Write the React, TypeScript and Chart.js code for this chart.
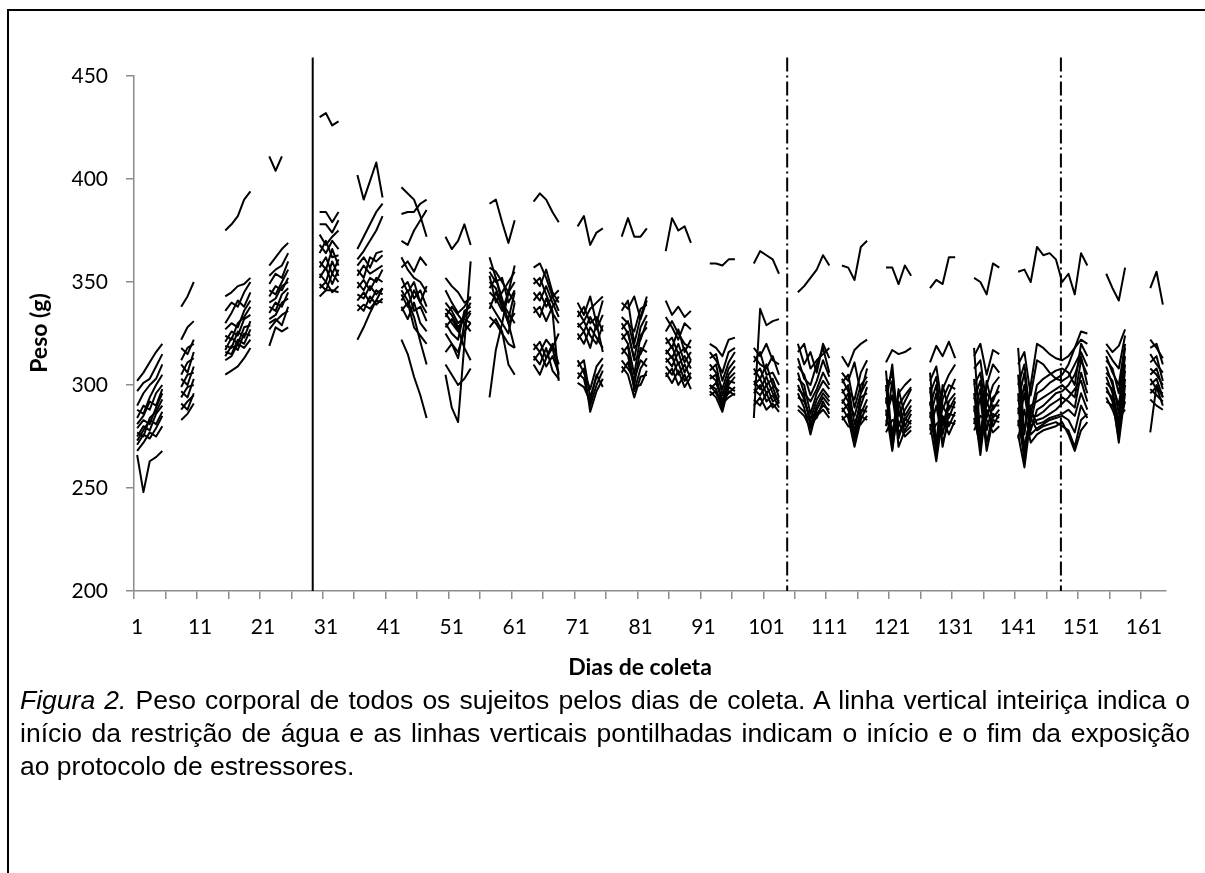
import React, { useEffect, useRef } from "react";
import { Chart, registerables } from "chart.js";

Chart.register(...registerables);

const NUM_DAYS = 164;
const dayLabels: string[] = Array.from({ length: NUM_DAYS }, (_, i) => String(i + 1));
const yTicks = [200, 250, 300, 350, 400, 450];
const solidLineDays = [28.9];
const dashLineDays = [104.3, 147.8];
const lineTopValue = 459;
const xTitle = "Dias de coleta";
const yTitle = "Peso (g)";
const blockStartDays = [1, 8, 15, 22, 30, 36, 43, 50, 57, 64, 71, 78, 85, 92, 99, 106, 113, 120, 127, 134, 141, 155, 162];

const b01 = [
  [302, 306, 311, 316, 320], [297, 301, 303, 309, 315], [290, 296, 300, 303, 310], [288, 286, 294, 300, 305],
  [284, 290, 288, 296, 300], [281, 285, 292, 290, 298], [279, 283, 281, 289, 296], [277, 275, 284, 287, 293],
  [275, 280, 278, 286, 290], [273, 278, 283, 281, 287], [271, 276, 274, 279, 285], [268, 272, 277, 275, 280],
  [266, 248, 263, 265, 268],
];
const b02 = [
  [338, 343, 350], [322, 328, 331], [318, 315, 322], [312, 318, 320], [310, 306, 316], [305, 311, 313],
  [303, 300, 309], [299, 305, 306], [297, 294, 303], [294, 299, 300], [291, 288, 296], [288, 292, 295],
  [283, 286, 291],
];
const b03 = [
  [375, 378, 382, 390, 394], [343, 345, 348, 349, 352], [336, 340, 338, 345, 350], [330, 335, 341, 338, 345],
  [327, 330, 328, 336, 341], [324, 322, 330, 333, 338], [321, 326, 324, 332, 334], [319, 318, 326, 323, 331],
  [317, 323, 320, 328, 329], [316, 315, 322, 320, 327], [314, 319, 317, 325, 324], [312, 314, 320, 318, 322],
  [305, 307, 309, 313, 318],
];
const b04 = [
  [411, 404, 411, null], [358, 362, 366, 369], [353, 356, 358, 364], [349, 354, 352, 360], [346, 344, 350, 356],
  [343, 348, 346, 352], [340, 342, 348, 350], [338, 336, 344, 347], [335, 340, 338, 345], [332, 334, 340, 342],
  [330, 332, 329, 338], [327, 331, 334, 336], [319, 328, 326, 328],
];
const b05 = [
  [430, 432, 426, 428], [384, 384, 379, 384], [378, 378, 374, 380], [373, 368, 372, 375], [368, 364, 370, 366],
  [364, 370, 362, 363], [360, 356, 366, 358], [357, 362, 354, 361], [354, 350, 360, 353], [352, 357, 349, 356],
  [349, 346, 354, 350], [347, 350, 345, 348], [343, 346, 346, 345],
];
const b06 = [
  [402, 390, 399, 408, 391], [366, 372, 378, 384, 388], [361, 365, 370, 375, 382], [358, 362, 357, 364, 365],
  [356, 352, 362, 360, 363], [353, 358, 354, 356, 358], [350, 346, 352, 350, 356], [347, 351, 346, 352, 350],
  [344, 342, 348, 344, 347], [341, 345, 340, 346, 344], [339, 336, 343, 339, 342], [336, 339, 337, 341, 340],
  [322, 328, 335, 341, 347],
];
const b07 = [
  [396, 393, 390, 382, 372], [383, 384, 384, 388, 390], [370, 368, 375, 380, 385], [362, 356, 352, 350, 345],
  [357, 360, 355, 362, 358], [352, 345, 350, 340, 348], [347, 350, 342, 346, 338], [344, 338, 346, 340, 335],
  [341, 346, 336, 338, 331], [338, 332, 340, 330, 326], [336, 340, 328, 324, 320], [322, 315, 304, 295, 284],
  [346, 341, 333, 321, 310],
];
const b08 = [
  [372, 366, 370, 378, 368], [352, 348, 345, 340, 342], [346, 340, 335, 338, 343], [340, 336, 330, 333, 336],
  [337, 334, 328, 332, 330], [335, 330, 326, 334, 340], [333, 338, 334, 330, 326], [330, 325, 322, 336, 338],
  [328, 332, 327, 318, 312], [325, 320, 316, 326, 330], [316, 320, 313, 330, 335], [305, 289, 282, 320, 360],
  [310, 305, 300, 303, 308],
];
const b09 = [
  [388, 390, 379, 369, 380], [362, 352, 342, 330, 318], [357, 355, 350, 345, 340], [355, 350, 352, 340, 346],
  [353, 340, 345, 350, 355], [350, 347, 338, 332, 345], [347, 352, 340, 335, 330], [345, 342, 336, 345, 350],
  [340, 335, 330, 325, 340], [337, 345, 338, 330, 335], [333, 330, 325, 320, 318], [328, 332, 326, 310, 305],
  [294, 317, 330, 345, 358],
];
const b10 = [
  [389, 393, 390, 384, 379], [357, 359, 352, 343, 336], [352, 348, 356, 345, 340], [349, 352, 344, 336, 302],
  [345, 341, 348, 340, 333], [341, 345, 338, 343, 346], [338, 333, 342, 335, 330], [335, 338, 331, 338, 343],
  [320, 316, 322, 318, 305], [317, 321, 313, 320, 310], [314, 310, 318, 307, 303], [312, 316, 309, 314, 306],
  [310, 305, 313, 318, 325],
];
const b11 = [
  [377, 382, 368, 374, 376], [340, 334, 343, 330, 341], [336, 331, 337, 340, 343], [333, 338, 330, 333, 326],
  [330, 326, 333, 327, 334], [328, 331, 324, 320, 329], [325, 320, 328, 323, 318], [322, 326, 318, 330, 316],
  [312, 306, 298, 309, 313], [309, 312, 294, 304, 310], [306, 303, 290, 300, 307], [303, 308, 287, 297, 303],
  [301, 299, 292, 305, 299],
];
const b12 = [
  [372, 381, 372, 372, 376], [340, 337, 343, 332, 341], [336, 341, 320, 333, 343], [333, 330, 326, 337, 339],
  [330, 325, 313, 328, 334], [327, 331, 318, 322, 331], [325, 320, 305, 324, 328], [322, 326, 312, 315, 322],
  [318, 314, 300, 318, 316], [315, 319, 297, 308, 313], [312, 308, 303, 312, 309], [309, 305, 294, 304, 305],
  [306, 311, 299, 300, 307],
];
const b13 = [
  [365, 381, 375, 377, 369], [341, 334, 338, 333, 336], [333, 328, 322, 330, 327], [326, 331, 325, 320, 318],
  [323, 318, 327, 316, 322], [320, 323, 315, 318, 312], [317, 313, 320, 311, 316], [315, 319, 310, 314, 308],
  [313, 309, 316, 306, 312], [311, 314, 305, 310, 303], [309, 305, 311, 302, 306], [306, 301, 307, 299, 304],
  [304, 308, 300, 305, 298],
];
const b14 = [
  [359, 359, 358, 361, 361], [320, 318, 314, 322, 323], [316, 312, 306, 316, 318], [313, 315, 302, 311, 316],
  [310, 306, 298, 308, 312], [307, 310, 295, 305, 309], [305, 302, 292, 303, 306], [303, 305, 290, 300, 304],
  [300, 298, 288, 302, 301], [298, 301, 293, 296, 299], [297, 294, 287, 299, 297], [295, 297, 291, 294, 296],
  [300, 296, 290, 297, 295],
];
const b15 = [
  [359, 365, 363, 361, 354], [284, 337, 329, 331, 332], [318, 314, 320, 312, 310], [314, 310, 308, 314, 305],
  [311, 316, 305, 306, 300], [308, 303, 310, 300, 297], [305, 308, 300, 303, 294], [302, 298, 304, 296, 292],
  [300, 303, 296, 299, 291], [298, 295, 300, 292, 294], [296, 300, 292, 295, 289], [293, 290, 296, 289, 292],
  [290, 294, 288, 291, 287],
];
const b16 = [
  [345, 348, 352, 356, 363, 358], [320, 310, 316, 306, 320, 313], [316, 320, 308, 312, 315, 318],
  [313, 303, 300, 310, 318, 306], [309, 305, 295, 302, 312, 304], [306, 296, 292, 298, 306, 300],
  [303, 300, 286, 296, 302, 298], [300, 293, 283, 293, 298, 294], [298, 295, 280, 290, 296, 292],
  [296, 289, 276, 288, 294, 290], [294, 292, 284, 286, 290, 288], [290, 287, 282, 284, 292, 286],
  [288, 285, 279, 285, 288, 284],
];
const b17 = [
  [358, 357, 351, 367, 370], [314, 309, 317, 320, 322], [306, 302, 311, 296, 308], [303, 297, 293, 306, 312],
  [301, 305, 289, 300, 304], [298, 292, 285, 296, 302], [296, 300, 281, 290, 299], [293, 288, 278, 294, 296],
  [291, 296, 273, 286, 293], [289, 284, 270, 283, 290], [287, 291, 276, 288, 287], [285, 280, 279, 281, 285],
  [283, 286, 274, 285, 283],
];
const b18 = [
  [357, 357, 349, 358, 353], [311, 317, 315, 316, 318], [307, 272, 296, 300, 303], [303, 300, 285, 292, 298],
  [300, 269, 290, 295, 299], [297, 306, 280, 288, 293], [294, 275, 298, 285, 290], [291, 310, 276, 283, 288],
  [288, 268, 292, 280, 286], [285, 295, 274, 284, 281], [283, 278, 288, 277, 280], [280, 302, 270, 278, 283],
  [277, 283, 282, 275, 278],
];
const b19 = [
  [347, 351, 349, 362, 362], [311, 319, 314, 321, 313], [306, 270, 298, 305, 310], [302, 309, 288, 296, 303],
  [299, 265, 293, 300, 298], [296, 304, 280, 292, 296], [292, 272, 300, 288, 294], [290, 300, 276, 290, 289],
  [287, 268, 290, 284, 292], [284, 296, 270, 286, 285], [281, 263, 285, 280, 287], [278, 290, 272, 282, 281],
  [276, 281, 284, 276, 283],
];
const b20 = [
  [352, 350, 344, 359, 357], [314, 320, 305, 317, 315], [318, 275, 300, 310, 306], [308, 312, 290, 300, 304],
  [303, 268, 296, 292, 300], [300, 306, 284, 294, 297], [296, 271, 302, 288, 293], [293, 302, 278, 290, 290],
  [290, 266, 292, 284, 288], [287, 298, 272, 286, 284], [284, 270, 288, 280, 286], [281, 294, 268, 283, 282],
  [278, 285, 283, 277, 280],
];
const b21 = [
  [355, 356, 350, 367, 363, 364, 361, 350, 354, 344, 364, 358],
  [318, 276, 300, 320, 318, 315, 313, 312, 314, 318, 326, 325],
  [310, 316, 295, 312, 310, 306, 303, 305, 310, 318, 322, 320],
  [305, 268, 286, 300, 303, 305, 307, 308, 306, 300, 320, 314],
  [300, 310, 282, 296, 298, 301, 303, 302, 304, 310, 316, 309],
  [296, 262, 290, 292, 294, 296, 298, 300, 297, 294, 312, 305],
  [292, 306, 278, 288, 290, 293, 296, 297, 300, 305, 314, 300],
  [289, 270, 285, 285, 287, 290, 292, 294, 292, 289, 306, 296],
  [286, 300, 280, 283, 284, 286, 288, 291, 294, 298, 302, 292],
  [283, 265, 288, 281, 282, 284, 285, 286, 288, 285, 296, 288],
  [280, 296, 276, 279, 281, 283, 284, 285, 283, 277, 290, 284],
  [276, 260, 284, 278, 280, 281, 282, 280, 278, 270, 283, 286],
  [274, 288, 272, 276, 278, 279, 280, 282, 276, 268, 278, 282],
];
const b22 = [
  [354, 347, 341, 357], [320, 316, 319, 327], [317, 312, 308, 324], [314, 306, 300, 320], [312, 308, 296, 318],
  [309, 300, 290, 314], [306, 302, 286, 310], [304, 296, 282, 307], [301, 298, 278, 303], [299, 292, 274, 300],
  [297, 294, 272, 296], [294, 288, 280, 292], [292, 290, 284, 288],
];
const b23 = [
  [347, 355, 339], [322, 318, 313], [318, 320, 310], [315, 310, 306], [311, 314, 302], [308, 305, 300],
  [305, 308, 298], [303, 298, 296], [300, 303, 294], [298, 295, 292], [296, 299, 290], [293, 290, 288],
  [277, 300, 294],
];

const blocks = [b01, b02, b03, b04, b05, b06, b07, b08, b09, b10, b11, b12, b13, b14, b15, b16, b17, b18, b19, b20, b21, b22, b23];
const SUBJECTS = b01.length;

function buildSeries(s: number): (number | null)[] {
  const arr: (number | null)[] = new Array(NUM_DAYS).fill(null);
  blocks.forEach((b, k) => {
    b[s].forEach((v, j) => {
      arr[blockStartDays[k] - 1 + j] = v as number | null;
    });
  });
  return arr;
}

const AXIS = "#8c8c8c";
const TITLE_FONT = "bold 23px Lato";

const markerPlugin = {
  id: "markers",
  afterDatasetsDraw(chart: any) {
    const { ctx, scales } = chart;
    const x = scales.x;
    const y = scales.y;
    const top = y.getPixelForValue(lineTopValue);
    const bottom = y.getPixelForValue(200);
    ctx.save();
    ctx.strokeStyle = "#000";
    ctx.lineWidth = 2;
    solidLineDays.forEach((d) => {
      const px = x.getPixelForValue(d - 1);
      ctx.setLineDash([]);
      ctx.beginPath();
      ctx.moveTo(px, top);
      ctx.lineTo(px, bottom);
      ctx.stroke();
    });
    dashLineDays.forEach((d) => {
      const px = x.getPixelForValue(d - 1);
      ctx.setLineDash([14, 4, 2, 4]);
      ctx.beginPath();
      ctx.moveTo(px, top);
      ctx.lineTo(px, bottom);
      ctx.stroke();
    });
    ctx.setLineDash([]);
    ctx.fillStyle = "#000";
    ctx.font = TITLE_FONT;
    ctx.textAlign = "center";
    ctx.textBaseline = "middle";
    ctx.fillText(xTitle, 640, 668);
    ctx.translate(40, 333);
    ctx.rotate(-Math.PI / 2);
    ctx.fillText(yTitle, 0, 0);
    ctx.restore();
  },
};

function WeightChart() {
  const ref = useRef<HTMLCanvasElement | null>(null);
  useEffect(() => {
    if (!ref.current) return;
    Chart.defaults.font.family = "Lato";
    const datasets = Array.from({ length: SUBJECTS }, (_, s) => ({
      label: "S" + (s + 1),
      data: buildSeries(s),
      borderColor: "#000",
      backgroundColor: "#000",
      borderWidth: 2,
      pointRadius: 0,
      spanGaps: false,
      tension: 0,
      borderJoinStyle: "round" as const,
    }));
    const chart = new Chart(ref.current, {
      type: "line",
      data: { labels: dayLabels, datasets },
      options: {
        animation: false,
        responsive: false,
        maintainAspectRatio: false,
        events: [],
        layout: { padding: { left: 0, right: 39, top: 76, bottom: 0 } },
        plugins: { legend: { display: false }, tooltip: { enabled: false } },
        scales: {
          x: {
            type: "category",
            offset: true,
            grid: {
              display: true,
              offset: true,
              drawOnChartArea: false,
              drawTicks: true,
              tickLength: 8,
              lineWidth: 1.5,
              color: (c: any) => (typeof c.index === "number" && c.index % 5 === 0 && c.index < NUM_DAYS ? AXIS : "rgba(0,0,0,0)"),
            },
            border: { display: true, color: AXIS, width: 1.5 },
            ticks: {
              autoSkip: false,
              maxRotation: 0,
              minRotation: 0,
              padding: 16,
              color: "#000",
              font: { size: 21 },
              callback: (_v: any, i: number) => (i % 10 === 0 ? dayLabels[i] : ""),
            },
            afterFit: (s: any) => {
              s.height = 99;
            },
          },
          y: {
            min: 200,
            max: 450,
            afterBuildTicks: (s: any) => {
              s.ticks = yTicks.map((v) => ({ value: v }));
            },
            grid: { drawOnChartArea: false, tickLength: 8, color: AXIS, lineWidth: 1.5 },
            border: { display: true, color: AXIS, width: 1.5 },
            ticks: { padding: 18, color: "#000", font: { size: 21 } },
            afterFit: (s: any) => {
              s.width = 134;
            },
          },
        },
      } as any,
      plugins: [markerPlugin],
    });
    return () => chart.destroy();
  }, []);
  return <canvas ref={ref} width={1205} height={690} style={{ position: "absolute", left: 0, top: 0, width: 1205, height: 690 }} />;
}

const captionLine: React.CSSProperties = {
  whiteSpace: "nowrap",
  height: 33,
  lineHeight: "33px",
};

export default function App() {
  useEffect(() => {
    document.body.style.overflow = "hidden";
  }, []);
  return (
    <div>
      <div
        style={{
          position: "absolute",
          left: 7,
          top: 9,
          width: 1198,
          height: 864,
          boxSizing: "border-box",
          borderTop: "2px solid #000",
          borderLeft: "2px solid #000",
        }}
      />
      <WeightChart />
      <div
        style={{
          position: "absolute",
          left: 20,
          top: 684,
          width: 1170,
          fontFamily: "'Liberation Sans', Arial, sans-serif",
          fontSize: 26.5,
          color: "#000",
        }}
      >
        <div style={{ ...captionLine, textAlign: "justify", textAlignLast: "justify" }}>
          <i>Figura 2.</i> Peso corporal de todos os sujeitos pelos dias de coleta. A linha vertical inteiriça indica o
        </div>
        <div style={{ ...captionLine, textAlign: "justify", textAlignLast: "justify" }}>
          início da restrição de água e as linhas verticais pontilhadas indicam o início e o fim da exposição
        </div>
        <div style={captionLine}>ao protocolo de estressores.</div>
      </div>
    </div>
  );
}
